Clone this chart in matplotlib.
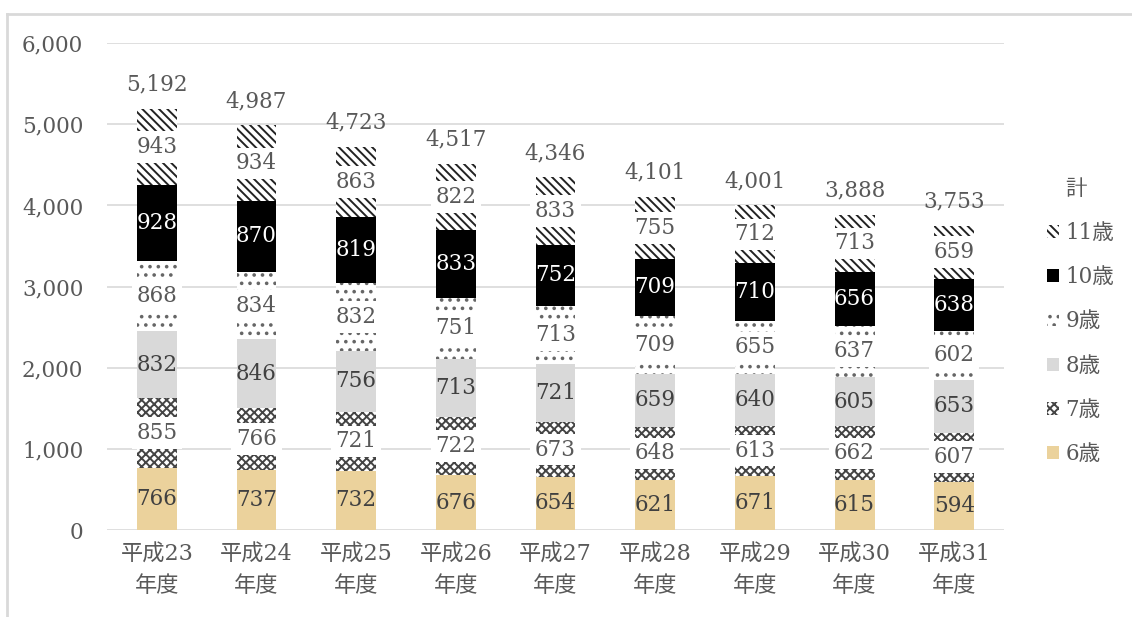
import numpy as np
import matplotlib
matplotlib.use('Agg')
import matplotlib.pyplot as plt
from matplotlib.patches import Patch
from matplotlib.lines import Line2D

plt.rcParams['font.family'] = ['DejaVu Serif', 'Noto Sans CJK JP']
plt.rcParams['hatch.linewidth'] = 1.4

years = ['平成23\n年度', '平成24\n年度', '平成25\n年度', '平成26\n年度', '平成27\n年度',
         '平成28\n年度', '平成29\n年度', '平成30\n年度', '平成31\n年度']
age6 = [766, 737, 732, 676, 654, 621, 671, 615, 594]
age7 = [855, 766, 721, 722, 673, 648, 613, 662, 607]
age8 = [832, 846, 756, 713, 721, 659, 640, 605, 653]
age9 = [868, 834, 832, 751, 713, 709, 655, 637, 602]
age10 = [928, 870, 819, 833, 752, 709, 710, 656, 638]
age11 = [943, 934, 863, 822, 833, 755, 712, 713, 659]
totals = [5192, 4987, 4723, 4517, 4346, 4101, 4001, 3888, 3753]

series_names = ['6歳', '7歳', '8歳', '9歳', '10歳', '11歳']
series = [age6, age7, age8, age9, age10, age11]

# (facecolor, hatch, hatch colour, label colour, label box)
styles = [
    ('#EBD29C', None, '#EBD29C', '#404040', False),
    ('white', 'xxxx', '#444444', '#595959', True),
    ('#D9D9D9', None, '#D9D9D9', '#404040', False),
    ('white', '..', '#666666', '#595959', True),
    ('black', None, 'black', 'white', False),
    ('white', '\\\\\\\\', '#222222', '#595959', True),
]

TXT = '#595959'
FS = 15.5
fig = plt.figure(figsize=(11.32, 6.17), dpi=100)
ax = fig.add_axes([0.0945, 0.141, 0.7925, 0.789])

x = np.arange(len(years))
bottom = np.zeros(len(years))
for vals, (fc, hatch, hc, lc, box) in zip(series, styles):
    vals = np.array(vals)
    ax.bar(x, vals, bottom=bottom, width=0.4, color=fc, hatch=hatch,
           edgecolor=hc, linewidth=0, zorder=2)
    for xi, b, v in zip(x, bottom, vals):
        kw = {}
        if box:
            kw['bbox'] = dict(boxstyle='square,pad=0.22', fc='white', ec='none')
        ax.text(xi, b + v / 2, f'{v:,}', ha='center', va='center',
                fontsize=FS, color=lc, zorder=4, **kw)
    bottom += vals

for xi, t in zip(x, totals):
    ax.text(xi, t + 300, f'{t:,}', ha='center', va='center', fontsize=FS,
            color=TXT, zorder=4)

ax.set_xlim(-0.5, len(years) - 0.5)
ax.set_ylim(0, 6000)
ax.set_yticks(range(0, 6001, 1000))
ax.set_yticklabels([f'{v:,}' for v in range(0, 6001, 1000)])
ax.set_xticks(x)
ax.set_xticklabels(years, linespacing=1.55, fontsize=16)
ax.tick_params(axis='both', length=0, colors=TXT)
ax.tick_params(axis='y', pad=17, labelsize=FS)
ax.tick_params(axis='x', pad=10)
ax.grid(axis='y', color='#D9D9D9', linewidth=1.2, zorder=0)
ax.set_axisbelow(True)
for s in ax.spines.values():
    s.set_visible(False)

handles = [Line2D([], [], linestyle='none', label='計')]
for name, (fc, hatch, hc, lc, box) in reversed(list(zip(series_names, styles))):
    handles.append(Patch(facecolor=fc, hatch=hatch, edgecolor=hc, linewidth=0, label=name))
leg = fig.legend(handles=handles, loc='upper left', bbox_to_anchor=(0.908, 0.743),
                 frameon=False, fontsize=FS, labelcolor=TXT, handlelength=0.55,
                 handleheight=0.55, handletextpad=0.3, labelspacing=1.03)

# outer frame
fig.add_artist(Line2D([7 / 1132, 7 / 1132], [0, 1 - 14 / 617], color='#D9D9D9', lw=2))
fig.add_artist(Line2D([7 / 1132, 1], [1 - 14 / 617, 1 - 14 / 617], color='#D9D9D9', lw=2))

fig.savefig('out.png', dpi=100)
